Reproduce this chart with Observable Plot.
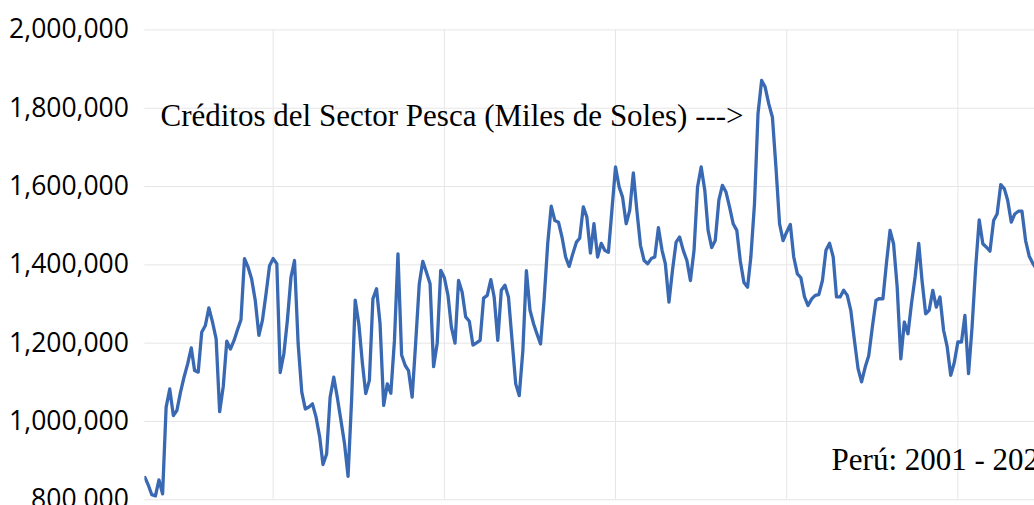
<!DOCTYPE html>
<html>
<head>
<meta charset="utf-8">
<script src="https://cdn.jsdelivr.net/npm/d3@7"></script>
<script src="https://cdn.jsdelivr.net/npm/@observablehq/plot@0.6"></script>
<style>
  html, body { margin: 0; padding: 0; background: #fff; overflow: hidden; }
  #chart { width: 1034px; height: 505px; }
</style>
</head>
<body>
<div id="chart"></div>
<script>
// Monthly credits to the fishing sector (thousands of soles), Jan 2001 onward
const y2001 = [857000, 836000, 813000, 810000, 851000, 815000, 1036000, 1083000, 1015000, 1028000, 1075000, 1113000];
const y2002 = [1147000, 1188000, 1130000, 1126000, 1228000, 1245000, 1290000, 1254000, 1211000, 1025000, 1090000, 1205000];
const y2003 = [1185000, 1207000, 1233000, 1260000, 1416000, 1394000, 1364000, 1309000, 1220000, 1258000, 1326000, 1398000];
const y2004 = [1416000, 1403000, 1125000, 1173000, 1258000, 1369000, 1411000, 1198000, 1075000, 1032000, 1037000, 1045000];
const y2005 = [1011000, 960000, 890000, 917000, 1062000, 1113000, 1062000, 1003000, 943000, 860000, 1060000, 1310000];
const y2006 = [1249000, 1147000, 1071000, 1105000, 1313000, 1339000, 1250000, 1041000, 1096000, 1072000, 1207000, 1428000];
const y2007 = [1170000, 1143000, 1130000, 1062000, 1200000, 1352000, 1409000, 1381000, 1352000, 1140000, 1200000, 1386000];
const y2008 = [1367000, 1322000, 1241000, 1200000, 1360000, 1330000, 1267000, 1256000, 1195000, 1201000, 1207000, 1315000];
const y2009 = [1322000, 1362000, 1318000, 1207000, 1335000, 1348000, 1318000, 1207000, 1096000, 1066000, 1181000, 1385000];
const y2010 = [1284000, 1249000, 1224000, 1198000, 1309000, 1454000, 1550000, 1513000, 1509000, 1471000, 1420000, 1396000];
const y2011 = [1428000, 1458000, 1468000, 1548000, 1522000, 1430000, 1505000, 1420000, 1455000, 1437000, 1432000, 1539000];
const y2012 = [1650000, 1599000, 1573000, 1505000, 1539000, 1635000, 1539000, 1450000, 1411000, 1403000, 1416000, 1420000];
const y2013 = [1495000, 1437000, 1403000, 1305000, 1386000, 1458000, 1471000, 1437000, 1411000, 1360000, 1437000, 1599000];
const y2014 = [1650000, 1590000, 1488000, 1444000, 1462000, 1565000, 1603000, 1586000, 1547000, 1505000, 1488000, 1410000];
const y2015 = [1355000, 1343000, 1420000, 1556000, 1786000, 1871000, 1854000, 1811000, 1777000, 1650000, 1505000, 1462000];
const y2016 = [1484000, 1503000, 1420000, 1377000, 1367000, 1318000, 1296000, 1313000, 1322000, 1324000, 1360000, 1437000];
const y2017 = [1455000, 1420000, 1318000, 1318000, 1335000, 1322000, 1284000, 1207000, 1135000, 1101000, 1139000, 1168000];
const y2018 = [1241000, 1309000, 1314000, 1313000, 1403000, 1488000, 1454000, 1343000, 1160000, 1254000, 1224000, 1301000];
const y2019 = [1369000, 1455000, 1360000, 1275000, 1284000, 1335000, 1292000, 1318000, 1233000, 1192000, 1118000, 1150000];
const y2020 = [1203000, 1203000, 1271000, 1122000, 1241000, 1394000, 1515000, 1454000, 1445000, 1435000, 1513000, 1530000];
const y2021 = [1605000, 1594000, 1565000, 1509000, 1530000, 1537000, 1537000, 1462000, 1422000, 1404000, 1390000];

const yearBlocks = [y2001, y2002, y2003, y2004, y2005, y2006, y2007, y2008, y2009, y2010, y2011,
                    y2012, y2013, y2014, y2015, y2016, y2017, y2018, y2019, y2020, y2021];
const yTicks = [800000, 1000000, 1200000, 1400000, 1600000, 1800000, 2000000];
const gridYears = [2004, 2008, 2012, 2016, 2020];
const titleText = "Créditos del Sector Pesca (Miles de Soles) --->";
const periodText = "Perú: 2001 - 2022";

const startDate = new Date(Date.UTC(2001, 0, 1));
const series = yearBlocks.flat().map((v, i) => ({date: d3.utcMonth.offset(startDate, i), value: v}));
const xGrid = gridYears.map(y => new Date(Date.UTC(y, 0, 1)));

const chart = Plot.plot({
  width: 1034,
  height: 505,
  marginLeft: 144.4,
  marginRight: 0,
  marginTop: 29.4,
  marginBottom: 5.7,
  style: {fontFamily: "'Open Sans', 'Noto Sans', sans-serif", fontSize: "26.5px", color: "#000", background: "#fff", overflow: "hidden"},
  x: {type: "utc", domain: [startDate, new Date(Date.UTC(2021, 9, 16))], axis: null},
  y: {domain: [800000, 2000000], label: null, axis: null},
  marks: [
    Plot.gridY(yTicks, {stroke: "#e6e6e6", strokeOpacity: 1, strokeWidth: 1}),
    Plot.gridX(xGrid, {stroke: "#e6e6e6", strokeOpacity: 1, strokeWidth: 1}),
    Plot.axisY(yTicks, {tickSize: 0, tickPadding: 16, tickFormat: d3.format(","), fontSize: 26.5, fill: "#000", label: null}),
    Plot.lineY(series, {x: "date", y: "value", stroke: "#3a69b3", strokeWidth: 3.3, clip: true}),
    Plot.text([titleText], {x: new Date(Date.UTC(2001, 4, 14)), y: 1781000, text: d => d, textAnchor: "start",
      fontFamily: "'Liberation Serif', 'Times New Roman', serif", fontSize: 31, fill: "#000"}),
    Plot.text([periodText], {x: new Date(Date.UTC(2017, 0, 18)), y: 900400, text: d => d, textAnchor: "start",
      fontFamily: "'Liberation Serif', 'Times New Roman', serif", fontSize: 31, fill: "#000"})
  ]
});
document.getElementById("chart").appendChild(chart);
</script>
</body>
</html>
